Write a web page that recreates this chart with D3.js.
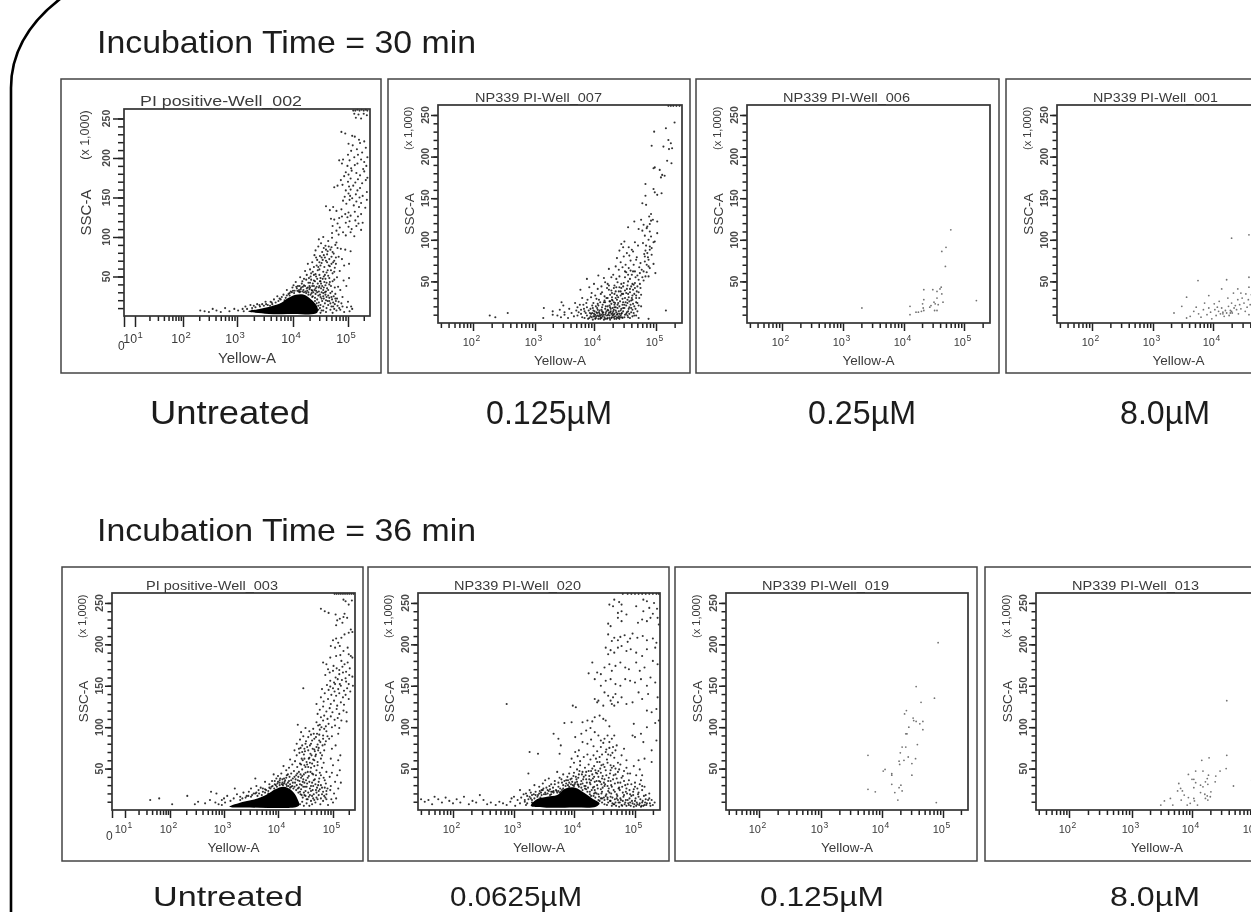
<!DOCTYPE html>
<html>
<head>
<meta charset="utf-8">
<style>
  html, body { margin: 0; padding: 0; background: #fff; overflow: hidden; }
  text { font-family: "Liberation Sans", Arial, sans-serif; }
</style>
<script src="https://cdn.jsdelivr.net/npm/d3@7"></script>
</head>
<body>
<div id="fig"></div>
<script>
// all points are [log10(Yellow-A), SSC-A x 1000]
var wells = ['PI positive-Well_002', 'NP339 PI-Well_007', 'NP339 PI-Well_006', 'NP339 PI-Well_001',
             'PI positive-Well_003', 'NP339 PI-Well_020', 'NP339 PI-Well_019', 'NP339 PI-Well_013'];
var doses = ['Untreated', '0.125µM', '0.25µM', '8.0µM', 'Untreated', '0.0625µM', '0.125µM', '8.0µM'];
var headings = ['Incubation Time = 30 min', 'Incubation Time = 36 min'];
var sscTicks = [50, 100, 150, 200, 250];
var decadeTicks = [2, 3, 4, 5];

var pointsWell002 = [[5.1,260],[5.14,260],[5.18,261],[5.22,260],[5.26,261],[5.3,260],[5.34,261],[5.37,260],[5.12,256],[5.2,255],[5.3,256],[5.36,254],[5.15,251],[5.25,250],
[4.88,233],[4.95,231],[5.08,228],[5.13,227],[5.21,223],[5.01,218],[5.09,216],[5.23,219],[5.31,221],[5.34,213],[5.06,209],[5.17,211],[5.27,207],[4.91,198],[5.0,204],[5.03,197],[5.12,201],[5.19,204],[5.25,198],[5.31,195],[5.37,201],[4.84,197],[4.89,193],[4.99,190],[5.06,187],[5.13,191],[5.18,193],[5.29,186],[5.35,190],[4.96,182],[5.01,179],[5.07,184],[5.16,181],[5.23,178],[5.31,183],[5.37,175],[4.87,172],[4.93,177],[5.0,170],[5.05,174],[5.14,169],[5.19,173],[5.27,168],[5.34,172],[4.75,163],[4.81,165],[4.9,166],[4.96,159],[5.02,164],[5.05,160],[5.1,165],[5.18,159],[5.23,162],[5.36,157],[4.94,151],[5.01,155],[5.04,152],[5.08,149],[5.15,154],[5.22,150],[5.28,152],[5.36,147],[4.91,146],[4.97,142],[5.03,147],[5.11,140],[5.16,145],[5.21,138],[5.25,143],[5.33,137],[4.6,139],[4.67,134],[4.73,138],[4.79,133],[4.88,135],[4.95,129],[5.01,131],[5.05,127],[5.13,132],[5.19,126],[5.25,129],[4.69,123],[4.75,122],[4.84,124],[4.89,126],[4.96,118],[4.99,125],[5.03,120],[5.14,121],[5.2,117],[5.28,118],[4.72,114],[4.81,117],[4.85,112],[5.01,113],[5.07,110],[5.16,114],[5.25,109],[4.71,105],[4.79,108],[4.83,103],[4.91,106],[4.96,102],[5.05,106],[5.12,101],
[4.47,97],[4.51,92],[4.55,100],[4.59,89],[4.64,95],[4.68,84],[4.71,99],[4.77,90],[4.81,86],[4.41,83],[4.46,88],[4.53,81],[4.56,77],[4.63,82],[4.66,72],[4.7,87],[4.74,79],[4.79,93],[4.87,85],[4.95,84],[5.05,82],[4.39,77],[4.44,71],[4.49,76],[4.6,70],[4.65,64],[4.73,68],[4.76,61],[4.83,75],[4.89,72],[4.35,68],[4.43,64],[4.48,59],[4.52,67],[4.57,62],[4.61,55],[4.69,58],[4.78,66],[4.93,64],[5.02,66],[4.27,66],[4.31,59],[4.36,56],[4.41,53],[4.46,62],[4.5,48],[4.55,56],[4.59,47],[4.64,51],[4.67,43],[4.72,54],[4.8,49],[4.85,57],[4.22,57],[4.25,52],[4.29,48],[4.33,54],[4.38,45],[4.42,50],[4.45,41],[4.49,44],[4.53,38],[4.57,43],[4.62,35],[4.66,40],[4.71,31],[4.75,46],[4.82,37],[4.92,45],[5.02,48],[4.13,49],[4.17,44],[4.2,39],[4.24,46],[4.27,36],[4.31,42],[4.35,38],[4.39,33],[4.43,37],[4.47,31],[4.51,35],[4.55,29],[4.6,31],[4.64,26],[4.7,24],[4.77,28],[4.86,33],[4.97,38],[4.05,43],[4.09,38],[4.15,36],[4.19,33],[4.23,31],[4.3,34],[4.37,30],[4.41,28],[4.46,26],[4.5,24],[4.56,22],[4.6,20],[4.66,19],[4.73,17],[4.8,22],[4.9,24],[5.0,18],[3.89,33],[3.94,29],[3.99,36],[4.03,32],[4.07,35],[4.11,33],[4.13,31],[4.26,32],[4.34,29],[3.98,30],[4.02,29],[4.12,30],[4.17,31],[4.24,29],[4.32,27],[4.36,25],[4.4,23],[4.44,21],[4.47,17],[4.5,14],[4.53,19],[4.55,12],[4.58,16],[4.61,10],[4.64,14],[4.68,8],[4.7,12],[4.76,15],[4.79,7],[4.84,10],[4.88,16],[4.93,5],[4.98,11],[5.06,12],[5.03,6],
[3.72,25],[3.78,21],[3.83,27],[3.87,23],[3.92,28],[3.94,26],[3.74,19],[3.69,17],[3.6,18],[3.66,21],[3.63,15],[3.45,15],[3.51,18],[3.55,14],[3.59,13],[3.3,13],[3.36,15],[3.41,12],[3.15,12],[3.18,9],[3.24,14],[3.27,10],[3.1,9],[3.12,6],[3.02,7],[2.95,9],[2.86,6],[2.78,10],[2.7,5],[2.62,7],[2.55,9],[2.48,5],[2.4,6],[2.32,7],[4.42,5],[4.46,8],[4.5,4],[4.55,7],[4.6,5],[4.72,4],[5.08,9],
[4.28,42],[4.3,38],[4.33,46],[4.36,41],[4.34,33],[4.4,44],[4.42,32],[4.44,47],[4.47,36],[4.48,52],[4.51,41],[4.52,30],[4.54,47],[4.56,36],[4.58,52],[4.59,27],[4.61,42],[4.63,58],[4.64,33],[4.66,48],[4.68,29],[4.69,38],[4.7,66],[4.72,44],[4.74,25],[4.75,56],[4.76,36],[4.78,19],[4.22,38],[4.2,47],[4.16,41],[4.12,38],[4.08,32],[4.06,37],[4.01,39],[4.14,34],[4.18,37],[4.25,35],[4.28,30],[4.31,36],[4.35,32],[4.38,38],[4.41,35],[4.44,30],[4.49,27],[4.52,22],[4.55,25],[4.58,30],[4.61,24],[4.63,19],[4.66,23],[4.68,16],[4.71,21],[4.73,12],[4.75,9],[4.77,22],[4.81,13],[4.83,18],[4.86,8],[4.9,12],[4.45,58],[4.5,64],[4.54,71],[4.58,74],[4.62,68],[4.67,63],[4.7,75],[4.72,81],[4.75,70],[4.78,74],[4.62,78],[4.65,88],[4.6,84],[4.56,86],[4.52,74],[4.48,68],[4.42,74],[4.38,62],[4.32,50],[4.38,52],[4.56,50],[4.48,38],[4.5,44],[4.55,33],[4.59,39],[3.76,22],[3.8,24],[3.85,20],[3.89,26],[3.96,31],[4.0,32],[4.1,31],[4.2,30],[4.28,27],[4.35,24],[4.4,19],[4.43,16],[4.46,13],[4.49,10],[4.52,7],[3.62,17],[3.52,15],[3.48,13],[3.4,14],[3.33,11],[3.27,7]];
var coreWell002 = [[3.2,6],[3.4,9],[3.6,12],[3.8,17],[3.92,23],[4.05,27],[4.2,27],[4.33,21],[4.44,12],[4.44,4],[4.0,2.5],[3.5,3]];

var pointsWell007 = [[5.2,261],[5.24,261],[5.28,261],[5.33,261],[5.38,261],[5.3,241],[5.16,234],[4.97,230],[5.2,220],[5.12,212],[5.24,216],[5.26,210],[5.21,209],[4.93,213],[5.18,195],[5.25,192],[4.96,186],[4.98,187],[5.06,184],[5.1,178],[5.08,175],[5.14,177],[4.83,167],[4.96,161],[4.98,157],[4.83,153],[5.09,156],[5.02,154],[4.78,144],[4.84,142],[4.76,124],[4.65,122],[4.89,128],[4.92,131],[4.95,124],[5.02,122],[4.8,118],[4.86,116],[4.9,119],[4.92,123],[4.72,113],[4.78,111],[4.85,114],[4.9,110],[5.02,108],[4.82,105],[4.88,100],[4.92,104],[4.98,98],[4.55,115],
[4.44,95],[4.49,98],[4.56,91],[4.61,88],[4.66,97],[4.71,93],[4.79,96],[4.84,93],[4.9,92],[4.96,97],[4.41,87],[4.47,91],[4.53,84],[4.57,81],[4.63,86],[4.68,76],[4.81,83],[4.83,87],[4.87,79],[4.93,82],[4.37,78],[4.43,73],[4.48,80],[4.51,70],[4.59,75],[4.64,70],[4.69,79],[4.75,72],[4.82,74],[4.88,68],[4.96,71],[4.35,68],[4.4,64],[4.46,67],[4.52,61],[4.56,66],[4.61,58],[4.66,62],[4.72,52],[4.77,64],[4.85,61],[4.9,66],[4.99,60],[4.24,65],[4.31,58],[4.36,53],[4.41,56],[4.44,47],[4.5,55],[4.55,50],[4.6,44],[4.66,48],[4.7,57],[4.75,42],[4.8,51],[4.88,56],[4.07,57],[4.16,54],[4.22,47],[4.28,55],[4.33,45],[4.38,49],[4.43,38],[4.47,44],[4.52,36],[4.58,41],[4.62,33],[4.64,46],[4.69,38],[4.76,34],[3.88,53],[4.0,47],[4.12,44],[4.18,49],[4.24,40],[4.29,36],[4.32,42],[4.37,33],[4.41,43],[4.46,29],[4.5,39],[4.56,31],[4.6,27],[4.65,35],[4.68,25],[4.73,30],[3.92,43],[4.06,41],[4.13,37],[4.17,32],[4.21,42],[4.26,34],[4.3,27],[4.35,38],[4.39,24],[4.45,35],[4.49,22],[4.54,28],[4.57,19],[4.63,23],[4.67,17],[4.72,21],[3.77,40],[3.96,36],[4.02,33],[4.08,28],[4.11,35],[4.16,25],[4.2,30],[4.25,21],[4.29,31],[4.33,19],[4.37,28],[4.42,26],[4.47,18],[4.51,25],[4.55,14],[4.59,22],[4.64,12],[4.7,14],[4.76,20],[3.8,30],[3.89,28],[3.95,31],[3.99,24],[4.04,29],[4.07,21],[4.13,19],[4.17,27],[4.22,16],[4.26,26],[4.31,14],[4.34,24],[4.38,18],[4.43,15],[4.46,22],[4.52,11],[4.56,17],[4.62,8],[4.68,9],[4.72,6],[3.45,25],[3.48,21],[3.68,24],[3.72,19],[3.76,22],[3.83,17],[3.87,24],[3.91,15],[3.97,21],[4.01,14],[4.05,18],[4.09,11],[4.12,16],[4.15,13],[4.19,20],[4.23,10],[4.27,17],[4.3,9],[4.36,13],[4.4,8],[4.44,11],[4.49,7],[4.54,9],[4.58,6],[3.15,18],[3.3,14],[3.42,16],[3.5,13],[3.58,17],[3.62,12],[3.7,15],[3.78,11],[3.84,14],[3.88,9],[3.93,12],[3.96,7],[4.0,11],[4.03,6],[4.06,9],[4.1,5],[4.14,8],[4.18,5],[4.21,9],[4.25,6],[4.28,11],[4.33,5],[4.37,7],[4.41,5],[4.46,6],[3.14,6],[3.3,10],[3.38,9],[3.44,7],[3.5,10],[3.56,6],[3.66,8],[3.72,9],[3.8,7],[3.84,6],[3.9,5],[3.94,8],[3.98,4],[4.01,8],[4.04,13],[4.07,5],[4.09,15],[4.11,7],[4.14,12],[4.16,4],[4.18,10],[4.2,14],[4.22,6],[4.24,12],[4.26,4],[4.27,14],[4.29,7],[4.31,10],[4.32,16],[4.34,8],[4.36,5],[4.38,11],[4.4,14],[4.42,7],[4.45,12],[3.97,12],[3.99,8],[4.02,10],[4.05,12],[4.08,8],[4.12,10],[4.88,5],[2.27,9],[2.36,7],[2.56,12],[5.16,15],
[3.92,6],[3.95,11],[3.99,15],[4.02,5],[4.04,8],[4.06,16],[4.08,13],[4.1,9],[4.12,6],[4.13,14],[4.15,10],[4.17,7],[4.19,12],[4.21,5],[4.23,15],[4.25,9],[4.26,13],[4.28,6],[4.3,12],[4.32,7],[4.33,11],[4.35,15],[4.37,10],[4.39,6],[4.41,11],[4.43,9],[4.45,7],[4.47,14],[4.5,10],[4.53,13],[4.55,7],[4.57,11],[4.6,13],[4.62,16],[4.65,9],[4.18,17],[4.22,20],[4.26,19],[4.28,23],[4.3,18],[4.33,22],[4.35,19],[4.38,22],[4.41,20],[4.44,17],[4.47,25],[4.49,18],[4.52,21],[4.54,24],[4.57,26],[4.6,18],[4.62,28],[4.65,20],[4.68,30],[4.7,24],[4.14,22],[4.18,25],[4.22,30],[4.25,26],[4.29,28],[4.32,25],[4.35,30],[4.39,31],[4.43,33],[4.47,35],[4.5,30],[4.53,41],[4.55,35],[4.58,37],[4.61,30],[4.63,40],[4.66,42],[4.68,33],[4.7,44],[4.72,37],[4.74,47],[4.67,55],[4.62,47],[4.58,53],[4.54,45],[4.48,48],[4.44,42],[4.4,38],[4.36,43],[4.33,35],[4.28,39],[4.24,45],[4.63,62],[4.59,63],[4.55,58],[4.5,62],[4.74,60],[4.73,67],[4.8,62],[4.83,56],[4.78,55],[4.85,70],[4.82,80],[4.86,84],[4.9,88],[4.88,76],[4.93,90],[3.88,19],[3.94,17],[3.98,18],[4.03,20],[4.06,23],[4.1,25],[3.82,22],[3.86,12],[3.78,16],[3.74,13]];

var pointsWell006 = [[4.78,112],[4.70,91],[4.63,86],[4.69,68],[4.62,43],[4.60,41],[4.48,40],[4.55,38],[4.33,40],[4.33,28],[4.63,35],[4.55,30],[4.65,25],[5.2,27],[4.5,25],[4.45,21],[4.43,19],[4.52,23],[4.57,22],[4.31,23],[4.32,18],[4.1,20],[3.31,18],[4.33,15],[4.29,14],[4.24,13],[4.2,13],[4.51,15],[4.55,15],[4.1,10]];

var pointsWell001 = [[4.30,102],[4.58,106],[3.75,51],[4.22,52],[4.58,55],[4.14,41],[3.93,33],[3.56,31],[4.4,41],[4.45,36],[4.58,43],[3.48,20],[3.35,12],[3.56,6],[3.62,8],[3.68,14],[3.72,19],[3.76,11],[3.8,7],[3.84,16],[3.86,24],[3.9,10],[3.93,18],[3.96,13],[3.98,5],[4.02,23],[4.03,16],[4.05,9],[4.07,19],[4.09,14],[4.1,26],[4.12,11],[4.14,18],[4.16,13],[4.18,8],[4.2,15],[4.22,12],[4.24,30],[4.25,20],[4.26,9],[4.28,15],[4.3,24],[4.31,12],[4.33,36],[4.34,18],[4.36,21],[4.38,16],[4.4,28],[4.41,11],[4.43,22],[4.45,17],[4.47,30],[4.5,24],[4.52,14],[4.53,35],[4.55,19],[4.57,28],[4.58,10],[4.6,22],[4.62,34],[4.64,15],[4.66,27],[4.68,20],[4.72,38],[4.7,13],[5.34,103],[5.32,98],[4.86,66],[4.92,58],[4.98,46],[5.02,38],[5.04,30],[5.08,24],[5.1,42],[5.14,32],[4.74,30],[4.78,42],[4.82,25],[4.84,36],[4.88,20],[4.9,30],[4.95,24],[4.76,18],[4.8,14],[4.28,12],[4.3,14],[4.16,11]];

var coreWell003 = [[3.1,4],[3.36,10],[3.62,14],[3.8,19],[3.95,25],[4.1,28],[4.24,24],[4.35,14],[4.38,5],[3.9,2.5],[3.48,3]];
var pointsWell003 = [[5.03,261],[5.07,261],[5.11,261],[5.15,261],[5.19,261],[5.23,261],[5.27,261],[5.31,261],[5.35,261],[5.39,261],[5.2,254],[5.24,252],[5.36,253],[5.3,248],[4.78,243],[4.85,240],[4.92,238],[5.05,236],[5.22,237],[5.08,229],[5.13,231],[5.2,233],[5.27,232],[5.18,226],[5.06,223],[5.34,218],[5.3,214],[5.37,215],[5.22,212],[5.16,208],[5.06,207],[5.0,205],[5.1,202],[4.96,198],[5.04,196],[5.13,198],[5.2,192],[5.28,196],[5.3,188],[5.34,186],[5.14,187],[5.06,186],[4.95,184],[5.37,184],[5.16,180],[5.22,176],[5.28,178],[4.82,178],[4.88,176],[4.91,170],[5.01,174],[5.07,171],[5.12,169],[5.18,173],[5.25,167],[5.32,171],[4.86,163],[4.94,166],[5.0,168],[5.05,160],[5.12,164],[5.19,166],[5.24,159],[5.31,163],[5.37,161],[4.95,156],[5.02,154],[5.09,158],[5.13,152],[5.17,157],[5.25,155],[5.3,152],[5.38,150],[4.46,147],[4.89,151],[4.95,149],[5.0,147],[5.04,152],[5.1,146],[5.15,150],[5.21,144],[5.27,147],[5.33,143],[4.8,146],[4.85,141],[4.92,145],[4.97,139],[5.03,143],[5.06,138],[5.12,141],[5.19,136],[5.24,139],[5.3,134],[4.78,136],[4.83,131],[4.91,134],[4.96,128],[5.02,132],[5.08,126],[5.15,130],[5.21,127],[4.7,128],[4.76,121],[4.82,125],[4.88,119],[4.94,123],[4.99,118],[5.07,122],[5.12,116],[5.2,120],[5.26,118],[4.72,116],[4.78,112],[4.84,114],[4.9,110],[4.96,113],[5.03,109],[5.09,111],[5.16,108],[5.26,107],[4.7,106],[4.76,103],[4.82,108],[4.87,101],[4.92,104],[4.98,100],[5.04,102],[5.12,99],
[4.36,103],[4.42,94],[4.5,99],[4.57,95],[4.6,91],[4.64,98],[4.71,92],[4.76,97],[4.82,90],[4.88,95],[4.98,89],[5.1,92],[4.4,85],[4.46,89],[4.51,83],[4.55,88],[4.6,80],[4.66,86],[4.7,76],[4.75,84],[4.81,78],[4.87,83],[5.05,78],[4.34,80],[4.38,74],[4.44,78],[4.49,71],[4.53,76],[4.59,68],[4.63,74],[4.68,65],[4.73,72],[4.77,69],[4.84,72],[4.98,74],[5.14,66],[4.3,72],[4.34,66],[4.39,69],[4.43,62],[4.47,67],[4.52,58],[4.57,63],[4.62,56],[4.66,60],[4.72,54],[4.78,62],[4.83,57],[4.96,62],[5.1,60],[5.0,54],[4.22,61],[4.26,55],[4.31,59],[4.35,52],[4.4,56],[4.44,49],[4.48,54],[4.54,46],[4.6,51],[4.64,43],[4.7,48],[4.75,38],[4.8,51],[4.88,46],[4.98,45],[5.08,42],[5.13,48],[4.1,53],[4.15,48],[4.2,51],[4.24,44],[4.29,47],[4.33,42],[4.38,46],[4.42,39],[4.47,43],[4.51,36],[4.56,41],[4.62,33],[4.67,37],[4.73,30],[4.78,42],[4.85,36],[4.94,40],[5.04,34],[5.15,33],[3.58,38],[3.92,43],[4.0,41],[4.06,44],[4.11,38],[4.16,42],[4.2,35],[4.27,38],[4.31,33],[4.36,36],[4.4,31],[4.45,34],[4.49,28],[4.53,32],[4.58,26],[4.64,29],[4.69,24],[4.74,34],[4.8,27],[4.87,32],[4.96,29],[5.1,26],[3.76,34],[3.84,31],[3.89,35],[3.96,30],[4.03,36],[4.08,33],[4.13,36],[4.18,33],[4.22,31],[4.26,29],[4.34,30],[4.38,27],[4.42,25],[4.46,28],[4.5,23],[4.55,21],[4.6,23],[4.65,19],[4.7,21],[4.76,25],[4.82,22],[4.88,19],[4.95,24],[5.02,20],[3.2,26],[3.5,26],[3.6,29],[3.64,24],[3.68,27],[3.72,22],[3.76,25],[3.82,23],[3.88,28],[3.93,26],[3.98,28],[4.03,30],[4.09,30],[4.16,29],[4.22,27],[4.28,26],[4.33,24],[4.37,21],[4.41,19],[4.45,15],[4.48,18],[4.52,13],[4.56,16],[4.6,11],[4.64,14],[4.68,9],[4.72,13],[4.77,7],[4.82,11],[4.86,15],[4.91,6],[4.97,13],[5.0,9],[5.06,14],[3.0,14],[3.06,17],[2.96,12],[2.86,20],[2.76,22],[3.02,9],[3.12,11],[3.18,14],[3.24,19],[3.3,16],[3.36,21],[3.42,17],[3.46,22],[3.52,18],[3.58,20],[3.62,17],[3.7,18],[3.76,21],[3.82,20],[2.65,8],[2.74,12],[2.84,9],[2.9,7],[2.96,6],[2.52,10],[2.32,17],[2.46,7],[1.56,12],[1.76,14],[2.04,7],[4.4,7],[4.44,10],[4.47,5],[4.52,8],[4.57,5],[4.62,7],
[4.12,34],[4.15,39],[4.18,43],[4.21,40],[4.24,36],[4.27,33],[4.3,40],[4.32,37],[4.35,44],[4.37,40],[4.39,35],[4.41,43],[4.43,30],[4.44,41],[4.46,37],[4.48,33],[4.5,45],[4.52,28],[4.54,39],[4.55,52],[4.57,34],[4.59,46],[4.6,29],[4.62,44],[4.63,24],[4.65,36],[4.66,53],[4.68,31],[4.69,42],[4.71,27],[4.72,58],[4.74,23],[4.76,45],[4.78,30],[4.8,19],[4.83,39],[4.85,27],[4.88,13],[4.9,26],[4.42,55],[4.45,60],[4.48,62],[4.5,52],[4.53,55],[4.56,62],[4.58,57],[4.61,66],[4.64,61],[4.67,71],[4.69,67],[4.72,79],[4.74,75],[4.77,82],[4.8,66],[4.82,86],[4.85,79],[4.58,78],[4.62,84],[4.55,72],[4.5,80],[4.48,74],[4.44,70],[4.41,75],[4.65,92],[4.69,88],[4.73,102],[4.75,91],[4.79,100],[4.84,98],[4.9,89],[4.93,86],[4.66,73],[3.94,35],[3.97,38],[4.0,34],[4.04,38],[4.08,37],[3.86,26],[3.9,29],[3.94,31],[3.99,32],[4.03,33],[4.07,31],[4.11,32],[4.15,31],[4.19,29],[4.24,28],[4.3,28],[4.36,26],[4.4,22],[4.43,18],[4.47,21],[4.5,17],[4.54,13],[4.58,18],[4.62,17],[4.66,12],[4.7,15],[4.74,18],[4.78,14],[4.84,17],[4.88,23],[3.3,12],[3.34,14],[3.4,15],[3.45,17],[3.5,16],[3.55,20],[3.6,21],[3.65,20],[3.72,26],[3.78,24],[3.84,27]];

var coreWell020 = [[3.28,5],[3.38,13],[3.55,16],[3.72,18],[3.86,26],[4.02,27],[4.16,21],[4.3,14],[4.42,8],[4.36,4],[4.0,3],[3.5,3]];
var pointsWell020 = [[4.8,261],[4.88,261],[4.94,261],[5.0,261],[5.06,261],[5.12,261],[5.18,261],[5.24,261],[5.3,261],[5.36,261],[5.4,261],[4.66,254],[4.74,251],[4.58,248],[4.78,248],[5.14,254],[5.2,252],[5.32,250],[5.37,243],[4.64,246],[4.72,238],[4.78,240],[4.86,236],[5.02,246],[5.14,240],[5.24,244],[5.3,237],[5.38,232],[4.56,225],[4.6,222],[4.72,232],[4.78,228],[5.05,226],[5.12,230],[5.2,228],[5.26,232],[5.4,224],[4.56,212],[4.62,204],[4.66,208],[4.72,205],[4.76,209],[4.83,211],[4.88,203],[4.92,207],[4.96,213],[5.04,208],[5.13,210],[5.2,205],[5.3,207],[5.36,202],[4.52,196],[4.56,188],[4.6,193],[4.66,190],[4.72,196],[4.78,198],[4.86,192],[4.93,194],[5.02,190],[5.12,186],[5.2,194],[5.34,196],[4.3,178],[4.38,166],[4.44,164],[4.5,172],[4.58,176],[4.62,168],[4.68,174],[4.76,178],[4.84,172],[4.9,170],[5.02,178],[5.08,168],[5.16,172],[5.3,180],[5.38,176],[4.24,165],[4.34,158],[4.44,150],[4.52,156],[4.6,158],[4.68,152],[4.76,150],[4.84,158],[4.92,156],[5.0,154],[5.1,158],[5.2,150],[5.26,160],[5.34,154],[4.5,142],[4.56,138],[4.6,132],[4.64,136],[4.68,140],[4.72,130],[4.62,128],[4.66,126],[4.78,136],[4.86,128],[4.96,130],[5.06,142],[5.12,134],[5.22,140],[5.38,136],[2.88,128],[3.98,126],[4.03,124],[4.34,134],[4.38,130],[4.4,132],[4.48,126],[5.2,120],[5.28,118],[5.36,122],[5.4,108],
[3.84,105],[3.96,106],[4.14,106],[4.22,108],[4.3,107],[4.34,112],[4.42,114],[4.48,110],[4.52,108],[4.58,101],[4.66,90],[4.98,104],[5.1,92],[5.0,88],[5.2,100],[5.34,105],[3.66,92],[3.74,86],[4.02,88],[4.12,92],[4.2,96],[4.27,99],[4.34,94],[4.4,90],[4.44,84],[4.5,86],[4.55,90],[4.58,82],[4.62,86],[4.96,90],[5.14,82],[5.36,84],[3.78,78],[4.08,72],[4.14,82],[4.22,80],[4.28,85],[4.32,77],[4.38,71],[4.44,76],[4.48,81],[4.53,73],[4.58,75],[4.63,69],[4.7,78],[4.82,74],[5.28,72],[3.26,70],[3.4,68],[3.76,68],[3.96,62],[4.02,70],[4.06,65],[4.1,59],[4.16,64],[4.22,67],[4.27,61],[4.32,66],[4.38,58],[4.42,64],[4.48,55],[4.54,61],[4.6,54],[4.66,63],[4.72,57],[4.78,66],[4.86,60],[5.06,60],[5.16,62],[5.28,58],[3.94,52],[4.0,57],[4.05,49],[4.1,54],[4.14,46],[4.18,51],[4.24,55],[4.28,47],[4.33,53],[4.38,44],[4.43,50],[4.47,41],[4.52,48],[4.57,39],[4.62,51],[4.68,43],[4.74,49],[4.8,41],[4.86,51],[4.92,44],[4.98,53],[5.08,49],[5.12,42],[3.24,44],[3.72,46],[3.76,39],[3.82,43],[3.87,36],[3.92,44],[3.96,38],[4.0,45],[4.04,37],[4.08,43],[4.12,35],[4.16,40],[4.2,46],[4.25,37],[4.3,43],[4.34,34],[4.4,40],[4.45,31],[4.5,37],[4.55,29],[4.6,35],[4.65,42],[4.72,33],[4.78,39],[4.84,30],[4.9,36],[5.0,33],[5.02,42],[5.1,36],[5.16,28],
[3.52,36],[3.58,38],[3.62,31],[3.68,35],[3.74,28],[3.8,33],[3.86,29],[3.9,36],[3.95,31],[4.02,33],[4.07,30],[4.14,32],[4.19,29],[4.26,33],[4.31,27],[4.38,30],[4.44,25],[4.5,29],[4.56,23],[4.62,28],[4.67,22],[4.74,27],[4.8,21],[4.86,26],[4.92,19],[4.98,25],[5.06,21],[5.12,24],[5.18,18],[3.34,30],[3.42,28],[3.48,32],[3.54,27],[3.6,25],[3.64,22],[3.7,24],[3.76,21],[3.82,26],[4.2,25],[4.26,22],[4.34,24],[4.4,19],[4.46,22],[4.52,17],[4.58,21],[4.63,15],[4.7,19],[4.76,14],[4.82,18],[4.88,12],[4.94,17],[5.0,11],[5.06,16],[5.12,9],[5.18,13],[5.24,14],[3.1,24],[3.2,20],[3.26,24],[3.3,18],[3.36,22],[3.42,20],[3.46,24],[3.52,21],[3.58,23],[4.32,17],[4.37,20],[4.44,14],[4.5,12],[4.56,9],[4.6,16],[4.66,7],[4.72,12],[4.78,6],[4.84,9],[4.9,6],[4.96,8],[5.02,5],[5.08,8],[5.14,5],[5.2,8],[5.26,5],[5.33,9],[5.16,6],[5.1,4],[5.04,7],[4.98,4],[4.92,9],[4.86,5],[4.8,11],[4.74,4],[4.68,9],[4.62,5],[4.54,6],[4.46,9],[4.4,12],[4.38,7],[3.0,16],[3.06,12],[3.12,15],[3.18,10],[3.24,13],[3.3,9],[3.34,7],[3.2,6],[3.1,8],[3.02,5],[2.94,10],[2.96,14],[2.88,6],[2.82,8],[2.76,10],[2.7,6],[2.62,9],[2.56,7],[2.5,12],[2.44,18],[2.38,9],[2.32,11],[2.26,7],[2.18,16],[2.12,9],[2.06,13],[2.0,8],[1.94,11],[1.88,15],[1.82,9],[1.76,13],[1.7,16],[1.66,7],[1.6,12],[1.54,10],[1.48,13],[3.16,19],[3.22,17],[3.28,21],[3.34,14],[3.4,18],[3.45,21],[3.5,19],[3.56,20],[3.62,19],[3.66,21],[3.74,23],[3.8,24],[3.9,30],[3.98,30],[4.06,31],[4.12,27],[4.18,26],[4.26,19],[4.33,20],
[3.18,12],[3.22,8],[3.26,16],[3.3,12],[3.33,19],[3.36,10],[3.39,16],[3.43,23],[3.46,18],[3.49,26],[3.53,19],[3.56,24],[3.59,29],[3.62,22],[3.65,27],[3.68,31],[3.71,23],[3.74,33],[3.77,26],[3.79,37],[3.82,30],[3.84,35],[3.87,32],[3.89,40],[3.92,33],[3.94,37],[3.97,34],[3.99,41],[4.01,31],[4.03,40],[4.05,34],[4.07,39],[4.09,47],[4.11,31],[4.13,43],[4.15,37],[4.17,29],[4.19,42],[4.21,33],[4.23,27],[4.25,41],[4.27,31],[4.29,24],[4.31,38],[4.33,28],[4.35,21],[4.37,35],[4.39,26],[4.41,16],[4.43,34],[4.45,20],[4.47,27],[4.49,15],[4.51,31],[4.53,19],[4.55,13],[4.57,26],[4.59,11],[4.61,20],[4.63,8],[4.65,24],[4.67,13],[4.69,5],[4.71,17],[4.73,9],[4.75,24],[4.77,12],[4.79,5],[4.81,16],[4.83,7],[4.85,12],[4.87,20],[4.89,8],[4.91,14],[4.93,5],[4.95,11],[4.97,18],[4.99,7],[5.01,14],[5.03,9],[5.05,19],[5.07,6],[5.09,13],[5.11,5],[5.13,11],[5.15,17],[5.17,9],[5.19,6],[5.22,12],[5.25,8],[5.28,12],[5.3,6],[5.24,20],[4.28,36],[4.33,40],[4.36,45],[4.41,35],[4.44,45],[4.46,38],[4.49,33],[4.53,42],[4.56,35],[4.59,44],[4.61,30],[4.64,37],[4.67,32],[4.7,38],[4.73,26],[4.76,33],[4.79,28],[4.82,35],[4.85,22],[4.88,31],[4.91,24],[4.94,31],[4.97,22],[5.0,28],[5.04,26],[5.08,31],[5.12,29],[4.2,37],[4.24,47],[4.3,50],[4.35,48],[4.4,47],[4.45,54],[4.5,52],[4.55,57],[4.6,48],[4.65,53],[4.68,50],[4.72,46],[4.76,55],[4.82,47],[4.88,44],[4.36,62],[4.42,58],[4.46,67],[4.52,70],[4.56,67],[4.6,66],[4.64,76],[4.68,72],[3.28,14],[3.32,6],[3.36,18],[3.4,9],[3.44,15],[3.48,24],[3.54,11],[3.6,18],[3.66,23],[3.72,21],[3.78,22],[3.84,24],[3.92,28],[4.0,29],[4.08,28],[4.14,24],[4.22,22],[4.28,17],[4.35,15],[4.42,11],[4.46,14],[4.5,7],[4.55,15],[4.6,11],[4.65,7],[4.7,14],[4.75,9]];

var pointsWell019 = [[4.92,202],[4.56,149],[4.86,135],[4.64,130],[4.4,120],[4.37,116],[4.51,111],[4.52,108],[4.56,107],[4.67,107],[4.62,104],[4.44,100],[4.67,97],[4.41,92],[4.39,92],[4.58,79],[4.33,76],[4.39,76],[4.3,69],[3.77,66],[4.43,64],[4.55,62],[4.36,60],[4.28,59],[4.49,56],[4.29,55],[4.05,49],[4.02,47],[4.16,44],[4.16,42],[4.49,42],[4.16,31],[4.31,30],[4.28,27],[4.33,23],[3.77,25],[3.89,22],[4.21,21],[4.26,12],[4.89,9]];

var pointsWell013 = [[4.57,132],[4.57,66],[4.28,63],[4.16,60],[4.56,50],[4.46,47],[4.06,47],[4.18,47],[3.94,43],[4.27,42],[4,37],[4.03,37],[4.39,41],[4.25,38],[4.38,34],[4.06,33],[3.78,32],[4.22,34],[4.14,30],[4.18,28],[4.26,31],[4.68,29],[4.98,36],[3.81,26],[3.76,23],[3.84,23],[4.03,27],[4.14,21],[4.21,19],[4.25,17],[4.31,22],[4.3,16],[4.22,14],[4.26,12],[3.87,18],[3.94,15],[4.03,14],[3.82,12],[3.64,14],[3.54,11],[3.48,6],[3.68,6],[3.92,6],[3.97,8],[4.09,6],[4.04,11]];

var panelPoints = [pointsWell002, pointsWell007, pointsWell006, pointsWell001, pointsWell003, pointsWell020, pointsWell019, pointsWell013];
// the saturated black middle of the dense plots can't be read dot by dot, so it's an outline
var panelCores = [coreWell002, null, null, null, coreWell003, coreWell020, null, null];

// layout, separate from the values: outer box, plot box, pixel of 10^2..10^5, name span
var layout = [
  {box:[61,79,381,373], plot:[124,109,370,316], dec:[183,237,293,348], low:135, name:[140,302]},
  {box:[388,79,690,373], plot:[438,105,682,323], dec:[473,535,594,656], name:[475,602]},
  {box:[696,79,999,373], plot:[747,105,990,323], dec:[782,843,904,964], name:[783,910]},
  {box:[1006,79,1310,373], plot:[1057,105,1300,323], dec:[1092,1153,1213,1275], name:[1093,1218]},
  {box:[62,567,363,861], plot:[112,593,355,810], dec:[170,224,278,333], low:125, name:[146,278]},
  {box:[368,567,669,861], plot:[418,593,660,810], dec:[453,514,574,635], name:[454,581]},
  {box:[675,567,977,861], plot:[726,593,968,810], dec:[759,821,882,943], name:[762,889]},
  {box:[985,567,1290,861], plot:[1036,593,1278,810], dec:[1069,1132,1192,1253], name:[1072,1199]}
];
var doseX = [[150,310],[486,612],[808,916],[1120,1210],[153,303],[450,582],[760,884],[1110,1200]];
var ink = '#3a3a3a';

var svg = d3.select('#fig').append('svg').attr('width', 1251).attr('height', 912);
svg.append('rect').attr('width', 1251).attr('height', 912).attr('fill', '#fff');

var defs = svg.append('defs');
defs.append('filter').attr('id', 'soft').attr('x', '-5%').attr('y', '-5%').attr('width', '110%').attr('height', '110%')
    .append('feGaussianBlur').attr('stdDeviation', 0.6);
defs.append('filter').attr('id', 'softer').attr('x', '-5%').attr('y', '-20%').attr('width', '110%').attr('height', '140%')
    .append('feGaussianBlur').attr('stdDeviation', 0.35);

// rounded outer border
svg.append('path')
    .attr('d', 'M11,912 L11,88 C11,48 34,18 64,-4')
    .attr('fill', 'none').attr('stroke', '#000').attr('stroke-width', 2.6);

function wideText(g, txt, x0, x1, y, size) {
    return g.append('text').attr('x', x0).attr('y', y).attr('font-size', size).attr('fill', '#1c1c1c')
        .attr('textLength', x1 - x0).attr('lengthAdjust', 'spacingAndGlyphs').text(txt);
}

var big = svg.append('g').attr('filter', 'url(#softer)');
wideText(big, headings[0], 97, 476, 53, 32);
wideText(big, headings[1], 97, 476, 541, 32);
doses.forEach(function(d, i) {
    wideText(big, d, doseX[i][0], doseX[i][1], i < 4 ? 424 : 906, i < 4 ? 33 : 28);
});

function minorTicks(lo, hi) {
    var out = [];
    for (var d = 0; d < 6; d++) {
        for (var m = 2; m < 10; m++) {
            var v = d + Math.log10(m);
            if (v > lo && v < hi) out.push(v);
        }
    }
    return out;
}

function drawPanel(i) {
    var L = layout[i], p = L.plot;
    var first = i === 0;
    var g = svg.append('g').attr('filter', 'url(#soft)');
    g.append('rect').attr('x', L.box[0]).attr('y', L.box[1])
        .attr('width', L.box[2] - L.box[0]).attr('height', L.box[3] - L.box[1])
        .attr('fill', '#fff').attr('stroke', '#444').attr('stroke-width', 1.5);

    var full = L.low !== undefined;
    var xDomain = full ? [0, 1, 2, 3, 4, 5, 5.42] : [1.43, 2, 3, 4, 5, 5.42];
    var xRange = (full ? [p[0], L.low] : [p[0]]).concat(L.dec, [p[2]]);
    var x = d3.scaleLinear().domain(xDomain).range(xRange);
    var y = d3.scaleLinear().domain([0, 262]).range([p[3], p[1]]);

    // ticks
    var lo = full ? 1 : 1.43;
    var xMinor = d3.axisBottom(x).tickValues(minorTicks(lo, 5.42)).tickSize(5).tickFormat('');
    var xMajor = d3.axisBottom(x).tickValues(full ? [0, 1].concat(decadeTicks) : decadeTicks).tickSize(first ? 11 : 8).tickFormat('');
    var yMinor = d3.axisLeft(y).tickValues(d3.range(10, 260, 10)).tickSize(first ? 6 : 4.5).tickFormat('');
    var yMajor = d3.axisLeft(y).tickValues(sscTicks).tickSize(first ? 11 : 7).tickFormat('');
    [xMinor, xMajor].forEach(function(a) {
        g.append('g').attr('transform', 'translate(0,' + p[3] + ')').call(a)
            .call(function(s) { s.select('.domain').remove(); s.selectAll('line').attr('stroke', '#222').attr('stroke-width', 1.5); });
    });
    [yMinor, yMajor].forEach(function(a) {
        g.append('g').attr('transform', 'translate(' + p[0] + ',0)').call(a)
            .call(function(s) { s.select('.domain').remove(); s.selectAll('line').attr('stroke', '#222').attr('stroke-width', 1.5); });
    });

    var scaleUp = first ? 1.12 : 1;

    // x tick labels, 10 with a raised power
    var xLabels = (full ? [1] : []).concat(decadeTicks);
    var labY = p[3] + (first ? 27 : 23);
    xLabels.forEach(function(k) {
        g.append('text').attr('x', x(k) + 2).attr('y', labY).attr('text-anchor', 'end')
            .attr('font-size', 11 * scaleUp).attr('fill', ink).text('10');
        g.append('text').attr('x', x(k) + 2.5).attr('y', labY - 5).attr('font-size', 8.5 * scaleUp).attr('fill', ink).text(k);
    });
    if (full) {
        g.append('text').attr('x', x(0) - 6).attr('y', p[3] + (first ? 34 : 30)).attr('font-size', 12).attr('fill', ink).text('0');
    }

    // rotated y tick labels
    sscTicks.forEach(function(v) {
        g.append('text').attr('transform', 'translate(' + (p[0] - (first ? 14 : 9)) + ',' + y(v) + ') rotate(-90)')
            .attr('text-anchor', 'middle').attr('font-size', 10.5).attr('fill', '#4a4a4a').attr('font-weight', 700).text(v);
    });

    // axis names
    g.append('text').attr('x', (p[0] + p[2]) / 2).attr('y', p[3] + (first ? 47 : 42))
        .attr('text-anchor', 'middle').attr('font-size', first ? 15 : 13.5).attr('fill', ink).text('Yellow-A');
    var nameBase = p[0] - (first ? 33 : 24);
    g.append('text').attr('transform', 'translate(' + nameBase + ',' + y(131) + ') rotate(-90)')
        .attr('text-anchor', 'middle').attr('font-size', first ? 15 : 13.5).attr('fill', ink).text('SSC-A');
    g.append('text').attr('transform', 'translate(' + (p[0] - (first ? 35 : 26)) + ',' + y(first ? 229 : 234) + ') rotate(-90)')
        .attr('text-anchor', 'middle').attr('font-size', first ? 12.5 : 11).attr('fill', ink).text('(x 1,000)');

    // well name over the plot
    g.append('text').attr('x', L.name[0]).attr('y', p[1] - 3)
        .attr('font-size', first ? 15 : 13.5).attr('fill', ink)
        .attr('textLength', L.name[1] - L.name[0]).attr('lengthAdjust', 'spacingAndGlyphs').text(wells[i]);

    // dots
    if (panelCores[i]) {
        var outline = d3.line().x(function(d) { return x(d[0]); }).y(function(d) { return y(d[1]); })
            .curve(d3.curveCatmullRomClosed);
        g.append('path').attr('d', outline(panelCores[i])).attr('fill', '#000');
    }
    var sparse = panelPoints[i].length < 100;
    g.selectAll('circle.dot').data(panelPoints[i]).enter().append('circle')
        .attr('class', 'dot')
        .attr('cx', function(d) { return x(d[0]); })
        .attr('cy', function(d) { return y(d[1]); })
        .attr('r', sparse ? 0.9 : 1.05)
        .attr('fill', '#000')
        .attr('opacity', sparse ? 0.55 : 0.8);

    g.append('rect').attr('x', p[0]).attr('y', p[1]).attr('width', p[2] - p[0]).attr('height', p[3] - p[1])
        .attr('fill', 'none').attr('stroke', '#333').attr('stroke-width', 1.7);
}

layout.forEach(function(L, i) { drawPanel(i); });
</script>
</body>
</html>
